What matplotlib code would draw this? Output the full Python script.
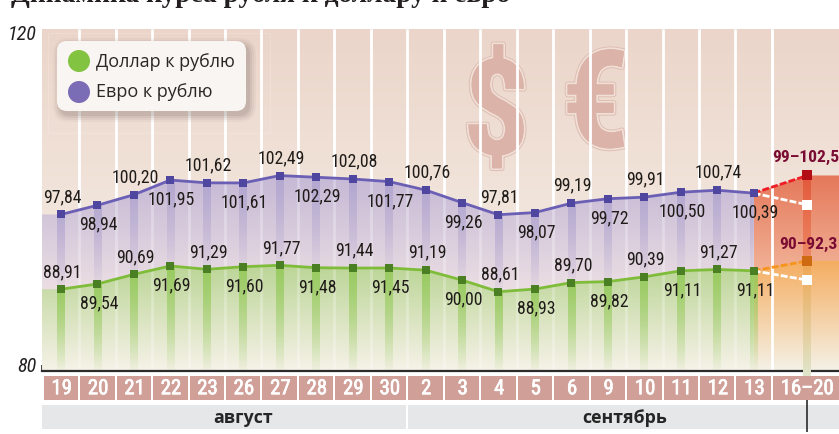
import numpy as np
import matplotlib
matplotlib.use("Agg")
from matplotlib import pyplot as plt
from matplotlib.colors import to_rgba
from matplotlib.patches import FancyBboxPatch, Circle, Polygon, Rectangle
import matplotlib.patheffects as pe

days = ["19", "20", "21", "22", "23", "26", "27", "28", "29", "30",
        "2", "3", "4", "5", "6", "9", "10", "11", "12", "13"]
usd = [88.91, 89.54, 90.69, 91.69, 91.29, 91.60, 91.77, 91.48, 91.44, 91.45,
       91.19, 90.00, 88.61, 88.93, 89.70, 89.82, 90.39, 91.11, 91.27, 91.11]
eur = [97.84, 98.94, 100.20, 101.95, 101.62, 101.61, 102.49, 102.29, 102.08, 101.77,
       100.76, 99.26, 97.81, 98.07, 99.19, 99.72, 99.91, 100.50, 100.74, 100.39]
forecast_day = "16–20"
eur_fc = [99, 102.5]
usd_fc = [90, 92.3]
eur_fc_label = "99–102,5"
usd_fc_label = "90–92,3"
months = ["август", "сентябрь"]
series_names = ["Доллар к рублю", "Евро к рублю"]
title = "Динамика курса рубля к доллару и евро"

W, H = 839, 434
narrow = ["Roboto Condensed", "Open Sans Condensed", "Liberation Sans"]


def box(x0, y0, x1, y1):
    return [x0 / W, 1 - y1 / H, (x1 - x0) / W, (y1 - y0) / H]


def grad(ax, x0, x1, ybot, ytop, ctop, cbot, clip=None, z=1, clip_on=True):
    n = 128
    t = np.linspace(0, 1, n)[:, None, None]
    img = (1 - t) * np.array(to_rgba(ctop)) + t * np.array(to_rgba(cbot))
    im = ax.imshow(img, extent=(x0, x1, ybot, ytop), aspect="auto", origin="upper",
                   interpolation="bilinear", zorder=z)
    if clip is not None:
        p = Polygon(clip, transform=ax.transData, fc="none", ec="none")
        ax.add_patch(p)
        im.set_clip_path(p)
    elif not clip_on:
        im.set_clip_on(False)
    return im


fig = plt.figure(figsize=(W / 100, H / 100), dpi=100, facecolor="white")
ax = fig.add_axes(box(42, 29, 839, 370.5))

xs = np.arange(len(days))
x_left, x_right = -0.52, 21.34
x_fc = 20.47
y_low, y_high = 79.2, 120
last = xs[-1]
edges = np.append(x_left, xs + 0.5)

# background
grad(ax, x_left, x_right, y_low, y_high, "#ebd5ca", "#f7f3ea", z=0)

sym_fx = [pe.withStroke(linewidth=4, foreground="#dfbdb2"),
          pe.withStroke(linewidth=2.6, foreground="#f0e0d8"), pe.Normal()]
ax.text(11.94, 109.4, "$", family=narrow, weight="bold", fontsize=96, color="#dcb3a8",
        ha="center", va="center", zorder=1, path_effects=sym_fx)
ax.text(14.66, 110.3, "€", family=narrow, weight="bold", fontsize=98, color="#dcb3a8",
        ha="center", va="center", zorder=1, path_effects=sym_fx)

ax.vlines(edges[1:], y_low, y_high, color="white", lw=2, zorder=2)

# area fills
eur_poly = [(x_left, eur[0])] + list(zip(xs, eur)) + [(last, y_low), (x_left, y_low)]
usd_poly = [(x_left, usd[0])] + list(zip(xs, usd)) + [(last, y_low), (x_left, y_low)]
grad(ax, x_left, last, 88, 103, "#bfb3d5e8", "#eee0e4e8", clip=eur_poly, z=3)
grad(ax, x_left, last, y_low, 92, "#b7d48fee", "#f6f2e8ee", clip=usd_poly, z=3)

red_poly = [(last, eur[-1]), (x_fc, eur_fc[1]), (x_right, eur_fc[1]), (x_right, y_low), (last, y_low)]
org_poly = [(last, usd[-1]), (x_fc, usd_fc[1]), (x_right, usd_fc[1]), (x_right, y_low), (last, y_low)]
grad(ax, last, x_right, 90, eur_fc[1], "#e5785a", "#f2b79c", clip=red_poly, z=3)
grad(ax, last, x_right, y_low, usd_fc[1], "#f4ad60", "#f5f1e6", clip=org_poly, z=3)
ax.vlines(edges[1:-1], y_low, y_high, color="white", lw=2, alpha=0.25, zorder=3.5)
ax.vlines(edges[-1], y_low, y_high, color="white", lw=2, zorder=3.5)

# strips under the points
for x, u, e in zip(xs, usd, eur):
    grad(ax, x - 0.105, x + 0.105 if x < last else x, u, e, "#ab9fceb0", "#ab9fce18", z=4)
    grad(ax, x - 0.105, x + 0.105, y_low, u, "#95ca5ae8", "#95ca5a10", z=4)
grad(ax, x_fc - 0.105, x_fc + 0.105, usd_fc[1], eur_fc[1], "#e2583a", "#ee8a66", z=4)
grad(ax, x_fc - 0.105, x_fc + 0.105, 78.5, usd_fc[1], "#efa550", "#dfe6cc", z=4, clip_on=False)

# lines and points
ax.plot(xs, eur, color="#6a5fb5", lw=2, zorder=5)
ax.plot(xs, usd, color="#7fbc3a", lw=2, zorder=5)
ax.plot(xs, eur, "s", color="#4f46a0", ms=6.2, mew=0, zorder=6)
ax.plot(xs, usd, "s", color="#4a8023", ms=6.2, mew=0, zorder=6)

# forecast
ax.plot([last, x_fc], [eur[-1], eur_fc[1]], color="#ee1c25", lw=2, ls=(0, (2.5, 0.8)), zorder=5)
ax.plot([last, x_fc], [eur[-1], eur_fc[0]], color="white", lw=2, ls=(0, (2.5, 0.8)), zorder=5)
ax.plot([last, x_fc], [usd[-1], usd_fc[1]], color="#f7941d", lw=2, ls=(0, (2.5, 0.8)), zorder=5)
ax.plot([last, x_fc], [usd[-1], usd_fc[0]], color="white", lw=2, ls=(0, (2.5, 0.8)), zorder=5)
ax.plot(x_fc, eur_fc[1], "s", color="#b20d14", ms=6.5, mew=0, zorder=6)
ax.plot(x_fc, usd_fc[1], "s", color="#cd6a12", ms=6.5, mew=0, zorder=6)
ax.plot([x_fc, x_fc], [eur_fc[0], usd_fc[0]], "s", color="white", ms=6.5, mew=0, zorder=6)

# value labels
for series in (usd, eur):
    for i, v in enumerate(series):
        dy = 12.5 if i % 2 == 0 else -14
        ax.annotate(f"{v:.2f}".replace(".", ","), (xs[i], v), xytext=(1, dy),
                    textcoords="offset points", ha="center", va="center",
                    family=narrow, fontsize=12.8, color="#1f1b18", zorder=7)
ax.annotate(eur_fc_label, (x_fc, eur_fc[1]), xytext=(-25, 13), textcoords="offset points",
            ha="left", va="center", family=narrow, weight="bold", fontsize=12.6,
            color="#7a0c33", zorder=7, annotation_clip=False)
ax.annotate(usd_fc_label, (x_fc, usd_fc[1]), xytext=(-20, 12), textcoords="offset points",
            ha="left", va="center", family=narrow, weight="bold", fontsize=12.6,
            color="#7a0c33", zorder=7, annotation_clip=False)

ax.set_xlim(x_left, x_right)
ax.set_ylim(y_low, y_high)
ax.set_yticks([])
ax.set_xticks(edges)
ax.tick_params(axis="x", direction="in", length=4, width=1.2, color="#2b2b2b", labelbottom=False)
for s in ["top", "left", "right"]:
    ax.spines[s].set_visible(False)
ax.spines["bottom"].set_linewidth(1.6)
ax.spines["bottom"].set_color("#2b2b2b")
ax.spines["bottom"].set_zorder(3.8)

# day cells
ax_days = fig.add_axes(box(42, 376, 839, 400))
ax_days.bar(xs, 1, width=0.945, color="#cf9f98")
ax_days.barh(0.5, x_right - edges[-1] - 0.03, height=1, left=edges[-1] + 0.03, color="#cf9f98")
day_fx = [pe.withStroke(linewidth=0.5, foreground="white")]
for x, d in zip(xs, days):
    ax_days.text(x + 0.02, 0.47, d, ha="center", va="center", family=narrow, fontsize=15,
                 color="white", path_effects=day_fx)
ax_days.text(x_fc, 0.47, forecast_day, ha="center", va="center", family=narrow, fontsize=15,
             color="white", path_effects=day_fx)
ax_days.set_xlim(x_left, x_right)
ax_days.set_ylim(0, 1)
ax_days.axis("off")

# months
ax_mon = fig.add_axes(box(42, 405, 839, 429))
ax_mon.barh(0.5, edges[10] - 0.03 - x_left, height=1, left=x_left, color="#e6e7e9")
ax_mon.barh(0.5, x_right - edges[10] - 0.03, height=1, left=edges[10] + 0.03, color="#e6e7e9")
ax_mon.text(5.0, 0.47, months[0], ha="center", va="center",
            family="Open Sans", weight="bold", fontsize=12.8, color="#262626")
ax_mon.text(15.47, 0.47, months[1], ha="center", va="center",
            family="Open Sans", weight="bold", fontsize=12.8, color="#262626")
ax_mon.vlines(x_fc, -0.13, 1.22, color="#2b2b2b", lw=1.2, clip_on=False)
ax_mon.set_xlim(x_left, x_right)
ax_mon.set_ylim(0, 1)
ax_mon.axis("off")

# overlay in pixel coordinates: title, y labels, legend
over = fig.add_axes([0, 0, 1, 1], facecolor="none")
over.set_xlim(0, W)
over.set_ylim(H, 0)
over.axis("off")
over.text(11, 2.5, title, family="Liberation Serif", weight="bold", fontsize=19.7, color="#231f20",
          ha="left", va="baseline")
over.text(37, 35, "120", family=narrow, style="italic", fontsize=14.5, color="#231f20", ha="right", va="center")
over.text(37, 367, "80", family=narrow, style="italic", fontsize=14.5, color="#231f20", ha="right", va="center")

over.add_patch(Rectangle((48, 33), 222, 100, fc="none", ec="white", lw=0.6, alpha=0.2))
for grow, a in [(7, 0.05), (5, 0.07), (3, 0.09), (1, 0.12)]:
    over.add_patch(FancyBboxPatch((65 - grow + 3, 49 - grow + 4), 173 + 2 * grow, 54 + 2 * grow,
                                  boxstyle=f"round,pad=8,rounding_size={10 + grow}",
                                  fc="#6b5a55", ec="none", alpha=a))
over.add_patch(FancyBboxPatch((65, 49), 173, 54, boxstyle="round,pad=8,rounding_size=10",
                              fc="#f9f5f2", ec="none"))
over.add_patch(Circle((79, 61), 11, fc="#82c341", ec="none"))
over.add_patch(Circle((79, 92), 11, fc="#7a6db5", ec="none"))
over.text(96, 62, series_names[0], family="Open Sans", fontsize=13, color="#2b2724", ha="left", va="center")
over.text(96, 92, series_names[1], family="Open Sans", fontsize=13, color="#2b2724", ha="left", va="center")

fig.savefig("out.png", dpi=100)
